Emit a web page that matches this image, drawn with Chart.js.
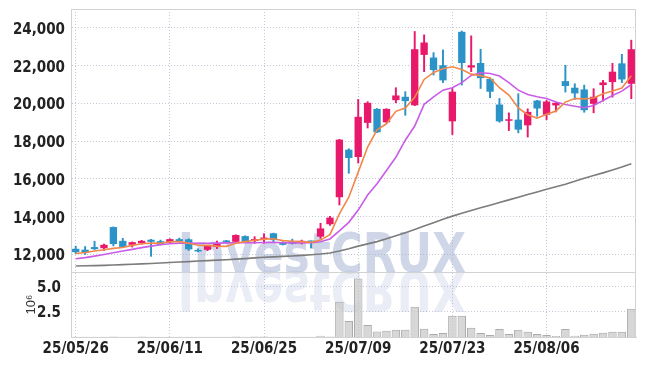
<!DOCTYPE html>
<html>
<head>
<meta charset="utf-8">
<script src="https://cdn.jsdelivr.net/npm/chart.js@4.4.1/dist/chart.umd.min.js"></script>
<style>
  html, body { margin: 0; padding: 0; background: #fff; }
  canvas { display: block; }
</style>
</head>
<body>
<canvas id="stockChart" width="645" height="366"></canvas>
<script>
// Trading days (YY/MM/DD)
const dates = [
  '25/05/26', '25/05/27', '25/05/28', '25/05/29', '25/05/30',
  '25/06/02', '25/06/04', '25/06/05', '25/06/09', '25/06/10',
  '25/06/11', '25/06/12', '25/06/13', '25/06/16', '25/06/17',
  '25/06/18', '25/06/19', '25/06/20', '25/06/23', '25/06/24',
  '25/06/25', '25/06/26', '25/06/27', '25/06/30', '25/07/01',
  '25/07/02', '25/07/03', '25/07/04', '25/07/07', '25/07/08',
  '25/07/09', '25/07/10', '25/07/11', '25/07/14', '25/07/15',
  '25/07/16', '25/07/17', '25/07/18', '25/07/21', '25/07/22',
  '25/07/23', '25/07/24', '25/07/25', '25/07/28', '25/07/29',
  '25/07/30', '25/07/31', '25/08/01', '25/08/04', '25/08/05',
  '25/08/06', '25/08/07', '25/08/08', '25/08/11', '25/08/12',
  '25/08/13', '25/08/14', '25/08/18', '25/08/19', '25/08/20'
];

// OHLC prices
const opens = [
  12300, 12250, 12390, 12330, 13450, 12720, 12510, 12600, 12780, 12700,
  12640, 12810, 12800, 12240, 12245, 12390, 12710, 12670, 12970, 12710,
  12815, 13120, 12650, 12700, 12640, 12700, 12940, 13600, 15030, 17550,
  17160, 18970, 19710, 19000, 20170, 20350, 19900, 22570, 22430, 22020,
  19050, 23790, 21900, 22140, 21300, 19940, 19080, 19140, 18840, 20150,
  19400, 19890, 21180, 20830, 20740, 19980, 20970, 21130, 22120, 21040
];
const highs = [
  12440, 12420, 12700, 12550, 13460, 12850, 12660, 12750, 12800, 12760,
  12830, 12870, 12830, 12300, 12470, 12710, 12750, 13040, 12990, 12940,
  13100, 13130, 12670, 12810, 12760, 12720, 13650, 14020, 18100, 17600,
  20210, 20090, 19730, 19720, 20830, 20620, 23810, 23630, 22690, 22830,
  20790, 23830, 23580, 22870, 21350, 20260, 19500, 20510, 19710, 20160,
  20160, 20050, 22020, 21040, 20970, 20780, 21220, 22120, 22600, 23350
];
const lows = [
  12050, 12000, 12260, 12210, 12450, 12380, 12390, 12550, 11900, 12500,
  12600, 12700, 12210, 12140, 12200, 12310, 12600, 12650, 12620, 12590,
  12590, 12650, 12500, 12550, 12550, 12350, 12850, 13540, 14620, 16300,
  16840, 18700, 18450, 18980, 20030, 19370, 19880, 21680, 21500, 21100,
  18350, 20970, 21680, 20790, 20300, 19000, 18560, 18440, 18220, 19320,
  19140, 19550, 20600, 20210, 19530, 19500, 20120, 20330, 21100, 20250
];
const closes = [
  12120, 12100, 12280, 12510, 12550, 12400, 12650, 12720, 12670, 12510,
  12810, 12710, 12270, 12160, 12460, 12580, 12660, 13030, 12670, 12810,
  12880, 12760, 12510, 12570, 12700, 12655, 13380, 13950, 18080, 17110,
  19290, 20030, 18470, 19710, 20420, 20120, 22870, 23225, 21770, 21220,
  20620, 22140, 22020, 21340, 20620, 19050, 19160, 18610, 19550, 19730,
  20100, 20030, 20920, 20530, 19640, 20350, 21110, 21680, 21270, 22870
];

// Moving average lines
const maShort = [
  12050, 12100, 12180, 12250, 12320, 12370, 12480, 12570, 12600, 12590,
  12670, 12680, 12590, 12490, 12480, 12440, 12430, 12590, 12680, 12750,
  12810, 12830, 12730, 12700, 12680, 12640, 12760, 13050, 14150, 15030,
  16360, 17690, 18600, 18920, 19580, 19750, 20320, 21270, 21640, 21840,
  21940, 21790, 21550, 21470, 21350, 20830, 20440, 19760, 19400, 19220,
  19430, 19600, 20070, 20260, 20240, 20290, 20510, 20660, 20810, 21460
];
const maMid = [
  11770, 11830, 11910, 12000, 12090, 12180, 12270, 12360, 12440, 12510,
  12570, 12600, 12600, 12590, 12590, 12600, 12610, 12620, 12620, 12620,
  12630, 12640, 12620, 12610, 12610, 12620, 12670, 12820, 13250, 13700,
  14350, 15150, 15750, 16450, 17150, 18050, 18800, 19950, 20350, 20700,
  20830, 21100, 21480, 21620, 21580, 21450, 21100, 20700, 20470, 20350,
  20260, 20070, 19940, 19850, 19770, 19890, 20150, 20420, 20650, 21000
];
const maLong = [
  11390, 11400, 11410, 11420, 11440, 11460, 11480, 11500, 11520, 11550,
  11570, 11600, 11620, 11650, 11670, 11700, 11720, 11750, 11780, 11820,
  11850, 11870, 11900, 11920, 11950, 11980, 12020, 12080, 12180, 12300,
  12440, 12560, 12680, 12830, 12990, 13150, 13320, 13500, 13680, 13870,
  14030, 14180, 14330, 14470, 14610, 14750, 14890, 15030, 15170, 15310,
  15450, 15580, 15720, 15880, 16040, 16180, 16320, 16470, 16630, 16800
];

// Volume, in millions of shares
const volumes = [
  0.02, 0.02, 0.02, 0.02, 0.05, 0.02, 0.02, 0.05, 0.02, 0.02,
  0.02, 0.02, 0.02, 0.02, 0.02, 0.02, 0.02, 0.04, 0.02, 0.04,
  0.04, 0.02, 0.02, 0.02, 0.02, 0.02, 0.13, 0.04, 3.5, 1.6,
  5.8, 1.2, 0.55, 0.63, 0.73, 0.73, 3.0, 0.83, 0.3, 0.4,
  2.1, 2.1, 0.93, 0.4, 0.2, 0.8, 0.3, 0.72, 0.53, 0.3,
  0.2, 0.1, 0.8, 0.13, 0.23, 0.33, 0.43, 0.53, 0.53, 2.8
];

// Axis tick values
const priceTicks = [12000, 14000, 16000, 18000, 20000, 22000, 24000];
const volumeTicks = [2.5, 5.0];

const upColor = '#e8196b';
const downColor = '#2b93c8';
const gridColor = '#c5c8d8';
const edgeColor = '#d2d2d2';
const tickFont = { family: '"Liberation Sans Narrow", "DejaVu Sans Condensed", sans-serif', size: 15, weight: 'bold' };

function candleColor(ctx) {
  const i = ctx.dataIndex;
  return closes[i] >= opens[i] ? upColor : downColor;
}

// Fixed axis box: 71px wide, no extra label padding above/below
function fitLeftAxis(scale) {
  scale.width = 71;
  scale.paddingTop = 0;
  scale.paddingBottom = 0;
}

// Big "InvestCRUX" watermark with a faded mirror image under it
const watermark = {
  id: 'watermark',
  beforeDatasetsDraw(chart) {
    const ctx = chart.ctx;
    const area = chart.chartArea;
    const base = chart.scales.yVol.top;
    const text = 'InvestCRUX';
    ctx.save();
    ctx.font = 'bold 55px "DejaVu Sans", sans-serif';
    const w = ctx.measureText(text).width;
    const targetW = area.width * 0.51;
    const cx = area.left + area.width * 0.444;
    ctx.textAlign = 'center';
    ctx.textBaseline = 'alphabetic';
    ctx.translate(cx, base);
    ctx.scale(targetW / w, 1);
    ctx.fillStyle = 'rgba(160, 174, 208, 0.5)';
    ctx.fillText(text, 0, 0);
    ctx.scale(1, -1);
    ctx.fillStyle = 'rgba(160, 174, 208, 0.22)';
    ctx.fillText(text, 0, 0);
    ctx.restore();
  }
};

// Frame on top/right and the line between price and volume panels
const frame = {
  id: 'frame',
  afterDraw(chart) {
    const ctx = chart.ctx;
    const a = chart.chartArea;
    const mid = chart.scales.yVol.top;
    ctx.save();
    ctx.strokeStyle = edgeColor;
    ctx.lineWidth = 1;
    ctx.beginPath();
    ctx.moveTo(a.left, a.top + 0.5);
    ctx.lineTo(a.right - 0.5, a.top + 0.5);
    ctx.lineTo(a.right - 0.5, a.bottom);
    ctx.moveTo(a.left, Math.round(mid) + 0.5);
    ctx.lineTo(a.right, Math.round(mid) + 0.5);
    ctx.stroke();
    ctx.restore();
  }
};

const ctx = document.getElementById('stockChart').getContext('2d');

const stockChart = new Chart(ctx, {
  type: 'bar',
  data: {
    labels: dates,
    datasets: [
      {
        type: 'line', label: 'MA5', data: maShort, yAxisID: 'y',
        borderColor: '#f0884a', borderWidth: 1.6, pointRadius: 0, order: 0
      },
      {
        type: 'line', label: 'MA20', data: maMid, yAxisID: 'y',
        borderColor: '#c95de8', borderWidth: 1.6, pointRadius: 0, order: 0
      },
      {
        type: 'line', label: 'MA60', data: maLong, yAxisID: 'y',
        borderColor: '#7c7c7c', borderWidth: 1.6, pointRadius: 0, order: 0
      },
      {
        label: 'body', data: opens.map((o, i) => [o, closes[i]]), yAxisID: 'y',
        backgroundColor: candleColor, borderWidth: 0, grouped: false,
        barPercentage: 0.78, categoryPercentage: 1, minBarLength: 1.5, order: 1
      },
      {
        label: 'wick', data: lows.map((l, i) => [l, highs[i]]), yAxisID: 'y',
        backgroundColor: candleColor, borderWidth: 0, grouped: false,
        barThickness: 1.3, order: 2
      },
      {
        label: 'volume', data: volumes, yAxisID: 'yVol',
        backgroundColor: 'rgba(198, 198, 198, 0.7)', borderColor: '#ababab',
        borderWidth: 1, grouped: false,
        barPercentage: 0.9, categoryPercentage: 1, order: 3
      }
    ]
  },
  options: {
    responsive: false,
    animation: false,
    devicePixelRatio: 1,
    layout: { padding: { top: 9, right: 9, bottom: 0, left: 0 } },
    plugins: { legend: { display: false }, tooltip: { enabled: false } },
    scales: {
      x: {
        offset: true,
        afterFit: (scale) => { scale.height = 29; },
        grid: {
          offset: false,
          drawTicks: false,
          color: (c) => (c.index % 10 === 0 ? gridColor : 'transparent')
        },
        border: { color: edgeColor, dash: [1, 2] },
        ticks: {
          autoSkip: false, maxRotation: 0, padding: 3,
          font: tickFont, color: '#222',
          callback: (v, i) => (i % 10 === 0 ? dates[i] : '')
        }
      },
      yVol: {
        position: 'left', stack: 'panels', stackWeight: 65,
        min: 0, max: 6.45,
        afterFit: fitLeftAxis,
        afterBuildTicks: (scale) => { scale.ticks = volumeTicks.map((v) => ({ value: v })); },
        grid: { drawTicks: false, color: gridColor },
        border: { color: edgeColor, dash: [1, 2] },
        title: {
          display: true, text: '10⁶', color: '#333',
          font: { family: '"Liberation Sans Narrow", sans-serif', size: 13 },
          padding: { top: 24, bottom: 0 }
        },
        ticks: {
          padding: 10, labelOffset: 1,
          font: tickFont, color: '#222',
          callback: (v) => v.toFixed(1)
        }
      },
      y: {
        position: 'left', stack: 'panels', stackWeight: 263,
        min: 11070, max: 25000,
        afterFit: fitLeftAxis,
        afterBuildTicks: (scale) => { scale.ticks = priceTicks.map((v) => ({ value: v })); },
        grid: { drawTicks: false, color: gridColor },
        border: { color: edgeColor, dash: [1, 2] },
        ticks: {
          padding: 6, labelOffset: 2,
          font: tickFont, color: '#222',
          callback: (v) => v.toLocaleString('en-US')
        }
      }
    }
  },
  plugins: [watermark, frame]
});
</script>
</body>
</html>
